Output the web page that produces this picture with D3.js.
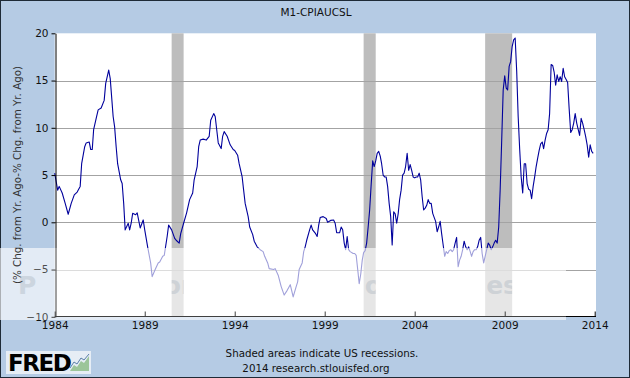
<!DOCTYPE html>
<html>
<head>
<meta charset="utf-8">
<script src="https://cdn.jsdelivr.net/npm/d3@7"></script>
<style>
  html, body { margin: 0; padding: 0; background: #fff; }
  svg { display: block; }
  text { font-family: "DejaVu Sans", Verdana, sans-serif; }
</style>
</head>
<body>
<svg id="chart" width="630" height="378"></svg>
<script>
// ---------- data ----------
const title = "M1-CPIAUCSL";
const yAxisLabel = "(% Chg. from Yr. Ago-% Chg. from Yr. Ago)";
const yTicks = [-10, -5, 0, 5, 10, 15, 20];
const xTickYears = ["1984", "1989", "1994", "1999", "2004", "2009", "2014"];
const recessionStarts = ["1990-07", "2001-03", "2007-12"];
const recessionEnds   = ["1991-03", "2001-11", "2009-06"];
const footnotes = ["Shaded areas indicate US recessions.", "2014 research.stlouisfed.org"];
const watermarkPieces = ["P", "or", "o", "es"];

const dates = [
"1984-01","1984-03","1984-04","1984-06","1984-08","1984-10","1984-12",
"1985-02","1985-04","1985-06","1985-07","1985-09","1985-10","1985-12",
"1986-01","1986-02","1986-03","1986-05","1986-06","1986-08","1986-10","1986-11",
"1987-01","1987-02","1987-03","1987-04","1987-05","1987-06","1987-07","1987-09","1987-10","1987-11","1987-12",
"1988-02","1988-03","1988-04","1988-05","1988-07","1988-08","1988-10","1988-12",
"1989-01","1989-03","1989-05","1989-06","1989-08","1989-10","1989-11",
"1990-01","1990-02","1990-04","1990-05","1990-07","1990-09","1990-10","1990-12",
"1991-01","1991-03","1991-05","1991-07","1991-09","1991-10","1991-12",
"1992-01","1992-02","1992-04","1992-06","1992-08","1992-09","1992-11","1992-12",
"1993-01","1993-02","1993-04","1993-05","1993-06","1993-08","1993-10","1993-12",
"1994-01","1994-03","1994-04","1994-06","1994-07","1994-08","1994-10","1994-11",
"1995-01","1995-02","1995-04","1995-06","1995-08","1995-09","1995-11","1995-12",
"1996-03","1996-04","1996-06","1996-08","1996-10","1996-12",
"1997-02","1997-03","1997-04","1997-06","1997-07","1997-08","1997-10","1997-11","1997-12",
"1998-01","1998-03","1998-04","1998-05","1998-07","1998-08","1998-09","1998-10","1998-12",
"1999-02","1999-03","1999-05","1999-07","1999-08","1999-09","1999-11","1999-12",
"2000-01","2000-02","2000-03","2000-04","2000-05","2000-06","2000-08","2000-09","2000-10","2000-11","2000-12",
"2001-01","2001-02","2001-03","2001-04","2001-05","2001-06","2001-07","2001-08","2001-09","2001-10","2001-11","2001-12",
"2002-01","2002-02","2002-03","2002-04","2002-05","2002-06","2002-07","2002-08","2002-09","2002-10","2002-11","2002-12",
"2003-01","2003-02","2003-03","2003-04","2003-05","2003-06","2003-07","2003-08","2003-09","2003-10","2003-11","2003-12",
"2004-01","2004-02","2004-03","2004-04","2004-05","2004-06","2004-07","2004-08","2004-09","2004-10","2004-11","2004-12",
"2005-01","2005-02","2005-03","2005-04","2005-05","2005-06","2005-07","2005-08","2005-09","2005-10","2005-11","2005-12",
"2006-01","2006-02","2006-03","2006-04","2006-05","2006-06","2006-07","2006-08","2006-09","2006-10","2006-11","2006-12",
"2007-01","2007-02","2007-03","2007-04","2007-05","2007-06","2007-07","2007-08","2007-09","2007-10","2007-11","2007-12",
"2008-01","2008-02","2008-03","2008-04","2008-05","2008-06","2008-07","2008-08","2008-09","2008-10","2008-11","2008-12",
"2009-01","2009-02","2009-03","2009-04","2009-05","2009-06","2009-07","2009-08","2009-09","2009-10","2009-11","2009-12",
"2010-01","2010-02","2010-03","2010-04","2010-05","2010-06","2010-07","2010-08","2010-09","2010-10","2010-11","2010-12",
"2011-01","2011-02","2011-03","2011-04","2011-05","2011-06","2011-07","2011-08","2011-09","2011-10","2011-11","2011-12",
"2012-01","2012-02","2012-03","2012-04","2012-05","2012-06","2012-07","2012-08","2012-09","2012-10","2012-11","2012-12",
"2013-01","2013-02","2013-03","2013-04","2013-05","2013-06","2013-07","2013-08","2013-09","2013-10","2013-11","2013-12"
];
const values = [
5.2,3.4,3.8,3.1,2.0,0.85,2.0,
2.9,3.2,3.8,6.2,8.0,8.4,8.5,
7.7,7.7,9.8,11.2,11.9,12.1,12.9,14.7,
16.1,15.2,13.3,11.2,10.1,8.0,6.2,4.5,4.1,2.0,-0.8,
-0.1,-0.8,-0.1,0.95,0.8,1.0,-0.6,0.25,
-0.8,-2.6,-4.3,-5.75,-5.0,-4.3,-4.2,
-3.6,-3.5,-1.5,-0.3,-0.8,-1.7,-1.9,-2.2,
-1.2,-0.1,1.0,2.4,3.1,4.5,5.9,
8.0,8.7,8.8,8.7,9.1,10.8,11.5,11.2,
9.8,8.4,7.8,9.1,9.6,9.1,8.2,7.7,
7.6,7.1,6.2,4.8,3.4,2.0,0.6,-0.5,
-1.3,-2.0,-2.6,-2.9,-3.1,-3.6,-4.3,-4.9,
-5.0,-4.9,-5.6,-6.8,-7.7,-7.2,
-6.6,-7.2,-7.9,-6.8,-6.3,-5.0,-4.3,-3.1,-2.6,
-1.9,-0.8,-0.3,-0.8,-1.2,-1.5,-0.3,0.5,0.6,
0.4,0.0,0.2,0.25,-0.1,-1.1,-1.1,-0.5,
-0.8,-2.2,-2.9,-1.5,-2.9,-3.1,-3.3,-3.3,-3.5,-5.0,-6.5,
-5.5,-4.0,-3.2,-3.0,-2.2,-0.5,1.3,4.0,6.5,5.9,6.5,7.3,
7.5,7.0,6.2,5.0,4.8,4.8,3.8,2.0,0.6,-2.4,1.1,0.9,
-0.1,0.95,2.4,3.4,5.0,5.2,5.9,7.3,5.5,6.1,5.5,4.8,
4.7,4.8,4.8,5.2,4.5,2.7,1.3,1.5,1.8,2.4,2.0,2.0,
0.95,0.5,0.1,-1.0,-0.5,0.1,-1.2,-2.4,-3.6,-3.1,-3.3,-3.0,
-2.9,-3.1,-2.9,-2.2,-1.6,-4.7,-4.0,-3.6,-2.9,-2.0,-2.6,-2.9,
-2.6,-3.1,-3.6,-3.1,-2.9,-2.9,-2.6,-1.9,-1.6,-3.3,-4.3,-3.6,
-2.9,-2.2,-2.4,-2.9,-2.6,-2.2,-1.9,-2.2,-0.5,3.5,8.7,14.0,
15.5,14.2,14.0,16.5,17.0,18.6,19.3,19.5,16.0,11.2,7.7,4.8,
3.1,6.2,6.2,4.1,3.5,3.4,2.5,3.8,4.8,5.9,6.8,7.6,
8.3,8.5,7.8,8.7,9.4,9.8,11.5,16.7,16.6,15.9,14.5,15.6,
14.9,15.4,14.9,16.3,15.4,15.1,14.8,12.0,9.5,9.8,10.5,11.5,
10.5,9.8,9.2,11.0,10.5,9.8,9.1,8.2,6.9,8.2,7.5,7.3
];

// ---------- chart ----------
(function () {
const W = 630, H = 378;
if (dates.length !== values.length) throw new Error("length mismatch " + dates.length + " vs " + values.length);
const parseM = d3.timeParse("%Y-%m");
const parseY = d3.timeParse("%Y");
const series = dates.map((d, i) => ({ date: parseM(d), value: values[i] }));

const svg = d3.select("#chart");
const pL = 54.7, pR = 594.7, pRight = 596, pT = 33.3, pB = 316.8;

const x = d3.scaleTime()
  .domain([parseY(xTickYears[0]), parseY(xTickYears[xTickYears.length - 1])])
  .range([pL, pR]);
const y = d3.scaleLinear().domain([-10, 20]).range([pB, pT]);

// background
svg.append("rect").attr("x", 0.5).attr("y", 0.5).attr("width", W - 1).attr("height", H - 1)
  .attr("fill", "#b5cbe4").attr("stroke", "#1e2a36").attr("stroke-width", 1);

// title
svg.append("text").attr("x", 316).attr("y", 16).attr("text-anchor", "middle")
  .attr("font-size", 10.5).attr("fill", "#111").text(title);

// plot area
svg.append("rect").attr("x", pL).attr("y", pT).attr("width", pRight - pL).attr("height", pB - pT)
  .attr("fill", "#ffffff");

// recessions
const rec = recessionStarts.map((s, i) => ({ s: parseM(s), e: parseM(recessionEnds[i]) }));
svg.append("g").selectAll("rect").data(rec).join("rect")
  .attr("x", d => x(d.s)).attr("width", d => x(d.e) - x(d.s))
  .attr("y", pT).attr("height", pB - pT)
  .attr("fill", "#bdbdbd");

// gridlines
svg.append("g").selectAll("line").data(yTicks.filter(v => v > -10 && v < 20)).join("line")
  .attr("x1", pL).attr("x2", pRight)
  .attr("y1", d => Math.round(y(d)) + 0.5).attr("y2", d => Math.round(y(d)) + 0.5)
  .attr("stroke", "#a3a3a3").attr("stroke-width", 1);

// line
const line = d3.line().x(d => x(d.date)).y(d => y(d.value));
svg.append("path").datum(series).attr("d", line)
  .attr("fill", "none").attr("stroke", "#00009c").attr("stroke-width", 1.1)
  .attr("stroke-linejoin", "round");

// watermark band
svg.append("rect").attr("x", 0).attr("y", 248).attr("width", 566).attr("height", 72)
  .attr("fill", "#ffffff").attr("opacity", 0.5);
// faint watermark letter fragments: one in the left margin, one per recession bar
const clip = svg.append("clipPath").attr("id", "wmclip");
clip.append("rect").attr("x", 0).attr("y", 240).attr("width", 37).attr("height", 90);
rec.forEach(d => clip.append("rect").attr("x", x(d.s)).attr("y", 240).attr("width", x(d.e) - x(d.s)).attr("height", 90));
const wmX = [18, x(rec[0].s) - 8, x(rec[1].s) + 1, x(rec[2].s) + 1];
svg.append("g").attr("clip-path", "url(#wmclip)").selectAll("text").data(watermarkPieces).join("text")
  .attr("x", (d, i) => wmX[i]).attr("y", 294)
  .attr("font-size", 25).attr("font-weight", "bold")
  .attr("fill", "#8f9cab").attr("opacity", 0.4).text(d => d);

// y axis
const yAxis = svg.append("g").attr("transform", `translate(${Math.round(pL) + 0.5},0)`)
  .call(d3.axisLeft(y).tickValues(yTicks).tickSize(4).tickSizeOuter(0).tickPadding(3));
yAxis.select(".domain").attr("stroke", "#000");
yAxis.selectAll(".tick line").attr("stroke", "#000");
yAxis.selectAll(".tick text").attr("font-size", 10.5).attr("fill", "#111")
  .attr("font-family", "DejaVu Sans, Verdana, sans-serif");

// x axis
const xAxis = svg.append("g").attr("transform", `translate(0,${Math.round(pB) - 0.5})`)
  .call(d3.axisBottom(x).tickValues(xTickYears.map(parseY)).tickFormat(d3.timeFormat("%Y"))
    .tickSize(-5).tickSizeOuter(0).tickPadding(5));
xAxis.select(".domain").attr("d", `M${pL},0H${pRight}`).attr("stroke", "#000");
xAxis.selectAll(".tick line").attr("stroke", "#000");
xAxis.selectAll(".tick text").attr("font-size", 10.5).attr("fill", "#111")
  .attr("font-family", "DejaVu Sans, Verdana, sans-serif");

// band lightens the lower axis area too (as in the reference)
svg.append("rect").attr("x", 0).attr("y", 248).attr("width", 566).attr("height", 72)
  .attr("fill", "#ffffff").attr("opacity", 0.25);

// y axis label
svg.append("text").attr("transform", `translate(21,175) rotate(-90)`)
  .attr("text-anchor", "middle").attr("font-size", 10.3).attr("fill", "#333")
  .text(yAxisLabel);

// footnotes
svg.append("text").attr("x", 322).attr("y", 357).attr("text-anchor", "middle")
  .attr("font-size", 10.3).attr("fill", "#111").text(footnotes[0]);
svg.append("text").attr("x", 316).attr("y", 372).attr("text-anchor", "middle")
  .attr("font-size", 10.3).attr("fill", "#111").text(footnotes[1]);

// FRED logo
const logo = svg.append("g");
logo.append("rect").attr("x", 6).attr("y", 351).attr("width", 85).attr("height", 23).attr("fill", "#e6edf5");
logo.append("text").attr("x", 8).attr("y", 371).attr("font-family", "Liberation Sans, Arial, sans-serif")
  .attr("font-weight", "bold").attr("font-size", 23).attr("letter-spacing", -1.5).attr("fill", "#000").text("FRED");
logo.append("path").attr("d", "M70,371 L74,365 L77,367 L81,361 L84,363 L89,356 L89,371 Z").attr("fill", "#9cc59a");
logo.append("path").attr("d", "M70,368 L74,362 L77,364 L81,358 L84,360 L89,354").attr("fill", "none")
  .attr("stroke", "#5b7fa8").attr("stroke-width", 1);
})();
</script>
</body>
</html>
